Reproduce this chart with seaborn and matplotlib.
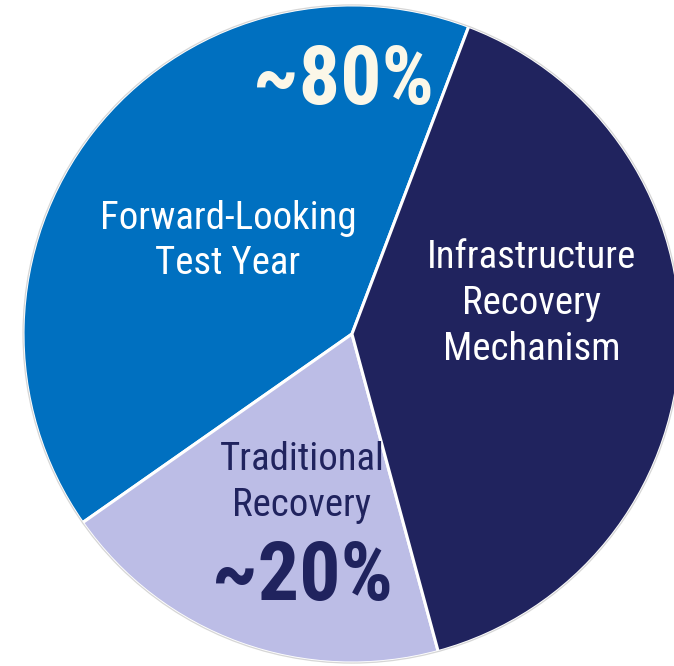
import matplotlib
matplotlib.use('Agg')
import matplotlib.pyplot as plt
import seaborn as sns

# Duomenys (nuskaityti nuo paveikslėlio)
segments = ['Forward-Looking\nTest Year', 'Traditional\nRecovery', 'Infrastructure\nRecovery\nMechanism']
shares = [40.5, 19.5, 40.0]
colors = ['#0070c0', '#bcbde6', '#20235e']
label_colors = ['white', '#20235e', 'white']
share_labels = ['~80%', '~20%']

sns.set_theme(style='white')
plt.rcParams['font.family'] = ['Roboto Condensed', 'DejaVu Sans']

fig = plt.figure(figsize=(6.74, 6.66), dpi=100)
ax = fig.add_axes([0, 0, 1, 1])

# Skritulinė diagrama su baltomis skiriamosiomis linijomis
wedges, _ = ax.pie(shares, colors=colors, startangle=69.2, counterclock=True,
                   wedgeprops=dict(edgecolor='white', linewidth=2.2))
ax.add_patch(plt.Circle((0, 0), 1.0, fill=False, edgecolor='#d6d6d6', linewidth=0.9, zorder=3))

# Segmentų pavadinimai
ax.text(-0.377, 0.283, segments[0], color=label_colors[0], fontsize=28,
        ha='center', va='center', linespacing=1.3)
ax.text(-0.152, -0.452, segments[1], color=label_colors[1], fontsize=28,
        ha='center', va='center', linespacing=1.3)
ax.text(0.547, 0.093, segments[2], color=label_colors[2], fontsize=28,
        ha='center', va='center', linespacing=1.3)

# Procentų užrašai
ax.text(-0.027, 0.766, share_labels[0], color='#fbf7e8', fontsize=59, fontweight='bold',
        ha='center', va='center')
ax.text(-0.149, -0.742, share_labels[1], color='#20235e', fontsize=59, fontweight='bold',
        ha='center', va='center')

ax.set_aspect('auto')
ax.set_xlim(-1.070, 0.979)
ax.set_ylim(-1.009, 1.015)
ax.axis('off')

fig.savefig('out.png', dpi=100, facecolor='white')
